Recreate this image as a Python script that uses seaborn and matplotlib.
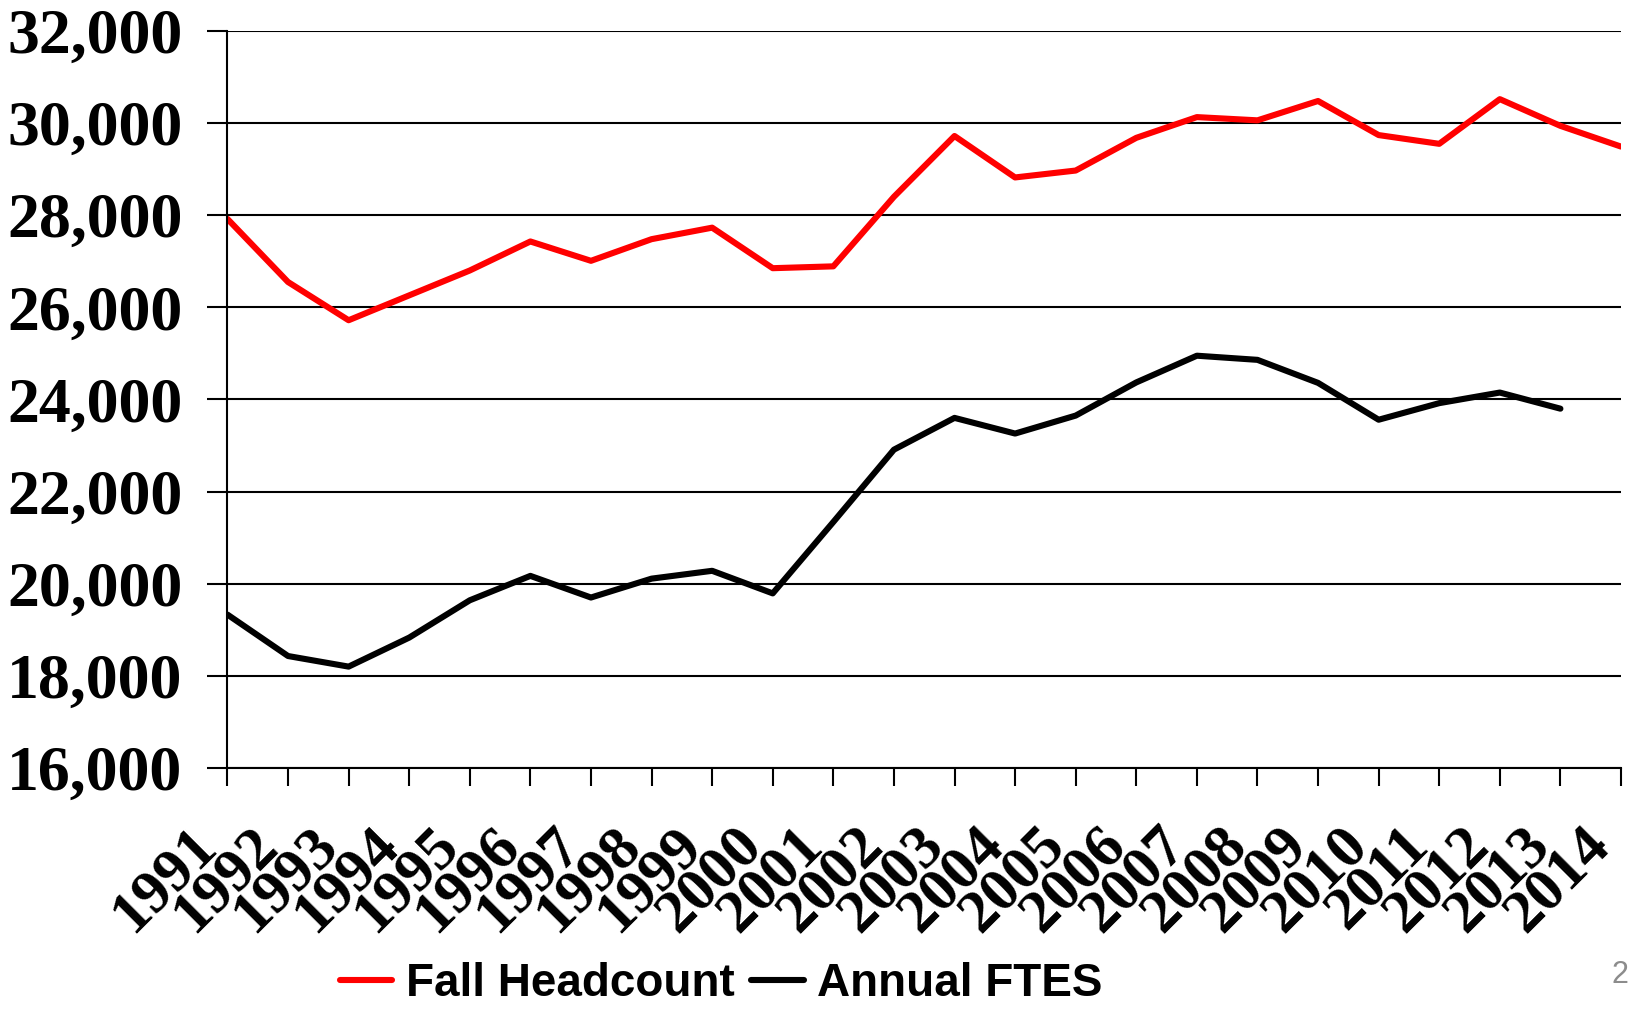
import pandas as pd
import seaborn as sns
import matplotlib.pyplot as plt

# values
years = [str(y) for y in range(1991, 2015)]
fall_headcount = [27920, 26550, 25720, 26260, 26800, 27430, 27010, 27480, 27730, 26850,
                  26890, 28400, 29720, 28820, 28970, 29680, 30130, 30060, 30480, 29740,
                  29550, 30520, 29940, 29490]
annual_ftes = [19330, 18430, 18200, 18830, 19640, 20170, 19700, 20110, 20280, 19790,
               21340, 22910, 23600, 23260, 23650, 24370, 24950, 24860, 24360, 23560,
               23920, 24150, 23800]
y_ticks = [16000, 18000, 20000, 22000, 24000, 26000, 28000, 30000, 32000]
y_labels = ['16,000', '18,000', '20,000', '22,000', '24,000', '26,000', '28,000', '30,000', '32,000']

head = pd.DataFrame({'Year': years, 'Value': fall_headcount})
ftes = pd.DataFrame({'Year': years[:len(annual_ftes)], 'Value': annual_ftes})

sns.set_style('white')
plt.rcParams['text.color'] = 'black'
plt.rcParams['xtick.color'] = 'black'
plt.rcParams['ytick.color'] = 'black'
serif = ['Liberation Serif', 'DejaVu Serif']
sans = ['Liberation Sans', 'DejaVu Sans']

fig = plt.figure(figsize=(16.28, 10.09), dpi=100)
ax = fig.add_axes([0.1397, 0.2389, 0.8560, 0.7304])

sns.lineplot(data=head, x='Year', y='Value', color='#ff0000', linewidth=4.4,
             label='Fall Headcount', ax=ax, sort=False)
sns.lineplot(data=ftes, x='Year', y='Value', color='black', linewidth=4.4,
             label='Annual FTES', ax=ax, sort=False)

ax.set_xlim(0, len(years) - 1)
ax.set_ylim(16000, 32000)
ax.set_yticks(y_ticks)
ax.set_yticklabels(y_labels, family=serif, fontweight='bold', fontsize=46, color='black')
ax.set_xticks(range(len(years)))
ax.set_xticklabels(years, family=serif, fontweight='bold', fontsize=44, color='black',
                   rotation=45, ha='right')
ax.set_xlabel('')
ax.set_ylabel('')

ax.yaxis.grid(True, color='black', linewidth=1.5)
ax.xaxis.grid(False)
ax.tick_params(axis='y', direction='out', length=14.5, width=1.5, color='black', pad=18)
ax.tick_params(axis='x', direction='out', length=13, width=1.5, color='black', pad=22)
ax.tick_params(left=True, bottom=True)
for side in ['top', 'right']:
    ax.spines[side].set_visible(False)
for side in ['left', 'bottom']:
    ax.spines[side].set_color('black')
    ax.spines[side].set_linewidth(1.5)

leg = ax.legend(loc='lower center', bbox_to_anchor=(0.443, -0.022), bbox_transform=fig.transFigure,
                ncol=2, frameon=False, handlelength=1.15, handletextpad=0.3, columnspacing=0.35,
                borderpad=0.05, prop={'family': sans, 'weight': 'bold', 'size': 33})
for t in leg.get_texts():
    t.set_color('black')

fig.text(0.990, 0.034, '2', color='#8c8c8c', fontsize=22, family=sans, ha='left', va='center')

fig.savefig('out.png', dpi=100)
